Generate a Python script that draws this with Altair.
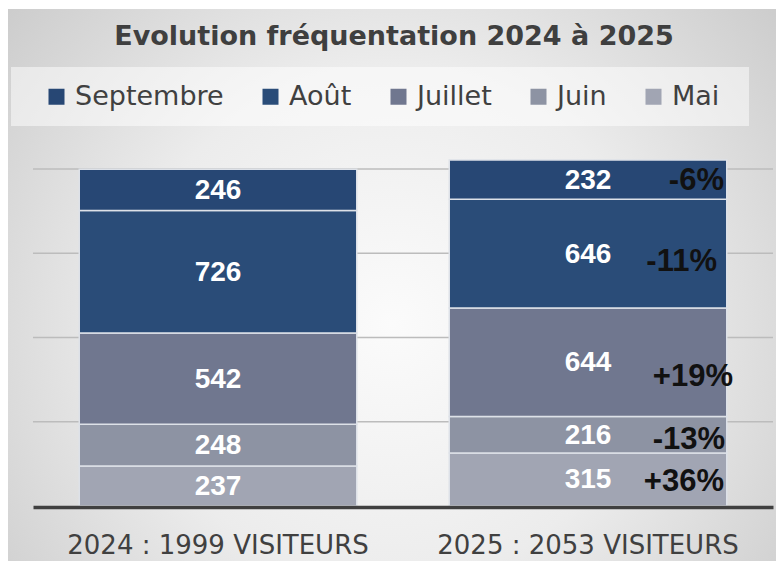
import altair as alt
import pandas as pd

# ---- data ----
title_text = "Evolution fréquentation 2024 à 2025"
years = ["2024", "2025"]
months = ["Mai", "Juin", "Juillet", "Août", "Septembre"]          # bottom -> top
visits_2024 = [237, 248, 542, 726, 246]
visits_2025 = [315, 216, 644, 646, 232]
changes_2025 = ["+36%", "-13%", "+19%", "-11%", "-6%"]
grid_values = [500, 1000, 1500, 2000]
legend_order = ["Septembre", "Août", "Juillet", "Juin", "Mai"]
legend_colors = ["#274774", "#2a4c78", "#70778f", "#8d93a3", "#a1a5b3"]

rows = []
for year, vals in zip(years, [visits_2024, visits_2025]):
    label = f"{year} : {sum(vals)} VISITEURS"
    for i, (m, v) in enumerate(zip(months, vals)):
        rows.append({"cat": label, "year": year, "month": m, "rank": i, "value": v,
                     "change": changes_2025[i] if year == "2025" else ""})
df = pd.DataFrame(rows)
cats = list(dict.fromkeys(df["cat"]))

# ---- styling ----
W, H = 740, 337
PL, PT, PR, PB = 25, 161, 3, 55
TXT = "#404040"

x_enc = alt.X("cat:N", sort=cats,
              scale=alt.Scale(paddingInner=0.25, paddingOuter=0.125),
              axis=alt.Axis(title=None, ticks=False, labelAngle=0, labelFont="DejaVu Sans",
                            labelFontSize=26, labelColor=TXT, labelPadding=25, labelLimit=0,
                            domainColor="#404040", domainWidth=3.5, zindex=1, offset=1))
y_scale = alt.Scale(domain=[0, 2000], nice=False)

one = alt.Data(values=[{}])

bg = alt.Chart(one).mark_rect(
    fill=alt.Gradient(gradient="radial",
                      stops=[alt.GradientStop(color="#fbfbfb", offset=0),
                             alt.GradientStop(color="#ececec", offset=0.45),
                             alt.GradientStop(color="#c2c2c2", offset=1)],
                      x1=0.5, y1=0.55, x2=0.5, y2=0.55, r1=0, r2=0.75)
).encode(x=alt.value(-PL), x2=alt.value(W + PR), y=alt.value(-PT + 1), y2=alt.value(H + PB))

legend_box = alt.Chart(one).mark_rect(fill="white", opacity=0.5).encode(
    x=alt.value(3 - PL), x2=alt.value(741 - PL), y=alt.value(59 - PT), y2=alt.value(118 - PT))

grid = alt.Chart(pd.DataFrame({"g": grid_values})).mark_rule(
    color="#bcbcbc", strokeWidth=1.3).encode(y=alt.Y("g:Q", scale=y_scale, axis=None))

bars = alt.Chart(df).mark_bar(stroke="#dde1e8", strokeWidth=1.5).encode(
    x=x_enc,
    y=alt.Y("value:Q", stack="zero", scale=y_scale, axis=None),
    color=alt.Color("month:N",
                    scale=alt.Scale(domain=legend_order, range=legend_colors),
                    legend=alt.Legend(orient="none", legendX=10, legendY=-86,
                                      direction="horizontal", title=None,
                                      symbolType="square", symbolSize=256,
                                      symbolStrokeWidth=0, symbolOpacity=1,
                                      labelFont="DejaVu Sans", labelFontSize=27,
                                      labelColor=TXT, labelOffset=5,
                                      columnPadding=33, padding=0)),
    order=alt.Order("rank:Q", sort="ascending"),
)

stacked = alt.Chart(df).transform_stack(
    stack="value", as_=["y0", "y1"], groupby=["cat"],
    sort=[alt.SortField("rank", order="ascending")]
).transform_calculate(mid="(datum.y0 + datum.y1) / 2")

values = stacked.mark_text(font="Liberation Sans", fontSize=28, fontWeight="bold",
                           color="white", baseline="middle", dy=1).encode(
    x=x_enc, y=alt.Y("mid:Q", scale=y_scale, axis=None), text="value:Q")

pct_dx = {"Mai": 136, "Juin": 137, "Juillet": 145, "Août": 129, "Septembre": 136}
pct_dy = {"Mai": 3, "Juin": 5, "Juillet": 15, "Août": 8, "Septembre": 1}
pct_layers = []
for m in months:
    pct_layers.append(
        stacked.transform_filter(f"datum.year == '2025' && datum.month == '{m}'")
        .mark_text(font="Liberation Sans", fontSize=31, fontWeight="bold", color="#111111",
                   align="right", baseline="middle", dx=pct_dx[m], dy=pct_dy[m])
        .encode(x=x_enc, y=alt.Y("mid:Q", scale=y_scale, axis=None), text="change:N")
    )

title = alt.Chart(one).mark_text(text=title_text, font="DejaVu Sans", fontSize=27,
                                 fontWeight="bold", color="#3f3f3f", align="center",
                                 baseline="middle").encode(
    x=alt.value(386 - PL), y=alt.value(29 - PT))

chart = alt.layer(bg, legend_box, grid, bars, values, *pct_layers, title).properties(
    width=W, height=H,
    padding={"left": PL, "top": PT, "right": PR, "bottom": PB},
    autosize=alt.AutoSizeParams(type="none"),
    background="white",
).configure_view(stroke=None)

chart.save("out.html", embed_options={"renderer": "svg", "actions": False})
